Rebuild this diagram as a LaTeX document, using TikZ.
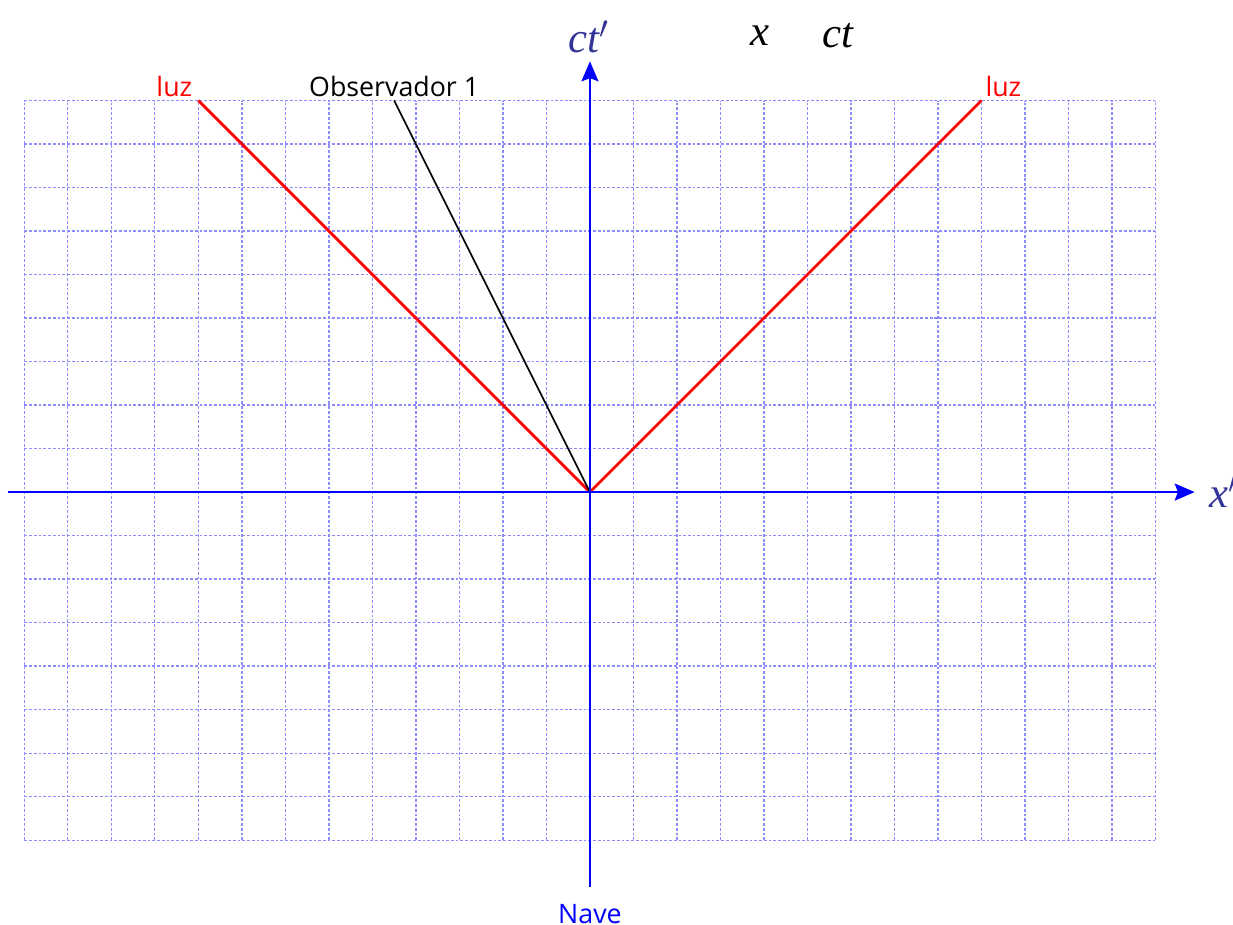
\documentclass[tikz,border=0pt]{standalone}
\usepackage{fontspec}
\setmainfont{Open Sans}
\newfontfamily\timesfont{Liberation Serif}
\usetikzlibrary{positioning, arrows.meta}
\definecolor{gridBlue}{HTML}{8C8CFF}
\definecolor{axisLabel}{HTML}{333399}

\begin{document}
\begin{tikzpicture}[
    >={Stealth[length=13pt, width=11pt, inset=2pt]},
    grid line/.style={draw=gridBlue, line width=0.8pt, dash pattern=on 1.8pt off 1.3pt},
    axis/.style={draw=blue, line width=1.8pt, ->},
    light/.style={draw=red, line width=1.8pt},
    worldline/.style={draw=black, line width=1.1pt},
    tag/.style={font=\fontsize{17.5}{20}\selectfont, inner sep=1pt},
    mathtag/.style={font=\timesfont\itshape\fontsize{28}{30}\selectfont, inner sep=1pt}
]
    \useasboundingbox (-13.56,-9.95) rectangle (14.78,11.31);

    % grid
    \foreach \x in {-13,...,13}
        \draw[grid line] (\x,-8) -- (\x,9);
    \foreach \y in {-8,...,9}
        \draw[grid line] (-13,\y) -- (13,\y);

    \coordinate (O) at (0,0);
    \coordinate (xStart) at (-13.38,0);
    \coordinate (xEnd) at (13.9,0);
    \coordinate (tStart) at (0,-9.08);
    \coordinate (tEnd) at (0,9.9);
    \coordinate (luzL) at (-9,9);
    \coordinate (luzR) at (9,9);
    \coordinate (obs) at (-4.5,9);

    % world lines
    \draw[light] (O) -- (luzL);
    \draw[light] (O) -- (luzR);
    \draw[worldline] (O) -- (obs);

    % axes
    \draw[axis] (xStart) -- (xEnd);
    \draw[axis] (tStart) -- (tEnd);

    % labels
    \node[mathtag, text=axisLabel, above=0.15cm of tEnd, xshift=-1pt] (ctPrime) {ct$'$};
    \node[mathtag, right=0.3cm of xEnd] (xPrime) {\textcolor{axisLabel}{x$'$}};
    \node[mathtag] (xLab) at (3.9,10.5) {x};
    \node[mathtag] (ctLab) at (5.7,10.5) {ct};
    \node[tag, text=blue, below=0.35cm of tStart] (nave) {Nave};
    \node[tag, text=red, above left=0.05cm and 0.1cm of luzL] (luzLeft) {luz};
    \node[tag, text=red, above right=0.05cm and 0.05cm of luzR] (luzRight) {luz};
    \node[tag, above=0.05cm of obs] (obsLab) {Observador 1};
\end{tikzpicture}
\end{document}
